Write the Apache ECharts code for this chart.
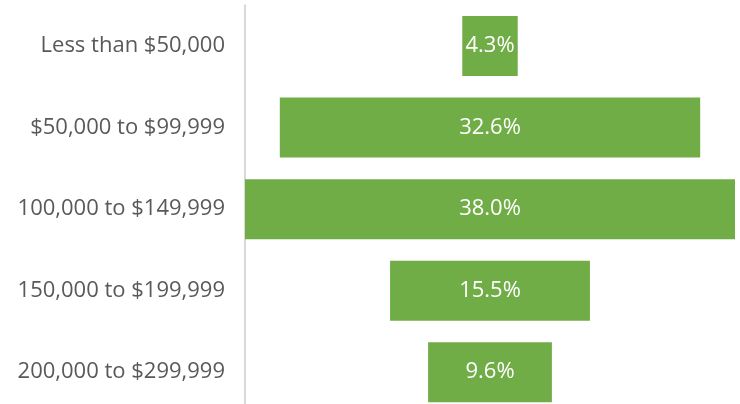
<!DOCTYPE html>
<html>
<head>
<meta charset="utf-8">
<script src="https://cdn.jsdelivr.net/npm/echarts@6/dist/echarts.min.js"></script>
<style>
  html, body { margin: 0; padding: 0; background: #fff; overflow: hidden; }
  /* chart is a bit taller than the window: the last band is cut off like in the source */
  #chart { width: 740px; height: 413px; }
</style>
</head>
<body>
<div id="chart"></div>
<script>
// income brackets, top to bottom
const categories = [
  'Less than $50,000',
  '$50,000 to $99,999',
  '100,000 to $149,999',
  '150,000 to $199,999',
  '200,000 to $299,999'
]
const shares = [4.3, 32.6, 38.0, 15.5, 9.6]
const maxShare = 38.0

// invisible spacer so each bar sits in the middle
const spacer = shares.map(v => (maxShare - v) / 2)

const chart = echarts.init(document.getElementById('chart'))
chart.setOption({
  animation: false,
  grid: {
    left: 245,
    right: 5,
    top: 5.25,
    bottom: 0
  },
  xAxis: {
    type: 'value',
    min: 0,
    max: maxShare,
    show: false
  },
  yAxis: {
    type: 'category',
    data: categories,
    inverse: true,
    axisTick: { show: false },
    axisLine: { lineStyle: { color: '#d9d9d9', width: 2 } },
    axisLabel: {
      color: '#595959',
      fontSize: 22,
      fontFamily: 'Open Sans',
      margin: 20
    }
  },
  series: [
    {
      type: 'bar',
      stack: 'funnel',
      data: spacer,
      barWidth: 60,
      itemStyle: { color: 'transparent' },
      silent: true
    },
    {
      type: 'bar',
      stack: 'funnel',
      data: shares,
      barWidth: 60,
      itemStyle: { color: '#70ad47' },
      label: {
        show: true,
        position: 'inside',
        color: '#fff',
        fontSize: 22,
        fontFamily: 'Open Sans',
        formatter: p => p.value.toFixed(1) + '%'
      }
    }
  ]
})
</script>
</body>
</html>
